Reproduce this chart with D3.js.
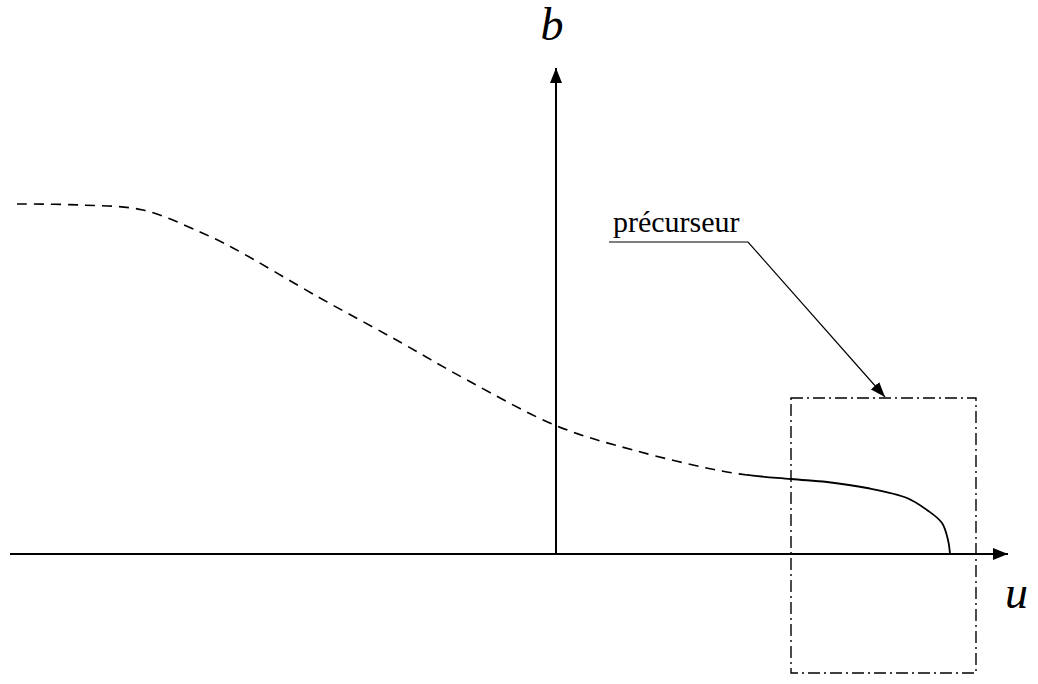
<!DOCTYPE html>
<html lang="fr">
<head>
<meta charset="UTF-8">
<title>précurseur</title>
<script src="https://d3js.org/d3.v7.min.js"></script>
<style>
  body { margin: 0; background: #fff; }
  text { font-family: "Liberation Serif", "Times New Roman", serif; fill: #000; }
</style>
</head>
<body>
<div id="chart"></div>
<script>
const width = 1038, height = 684;

// curve b(u), one list of points; the part past splitU is drawn solid (the precursor)
const curveU = [-10.78, -9.52, -8.26, -7.12, -6.46, -4.72, -3.12, -1.78, 0.02, 1.54, 3.54, 4.7, 5.42, 6.22, 7.02, 7.42, 7.72, 7.84, 7.88];
const curveB = [7.0, 6.98, 6.88, 6.44, 6.12, 5.12, 4.24, 3.48, 2.56, 2.08, 1.62, 1.5, 1.44, 1.32, 1.12, 0.88, 0.62, 0.28, 0.0];
const splitU = 3.82;

// axes extent
const uAxis = [-10.92, 9.04];
const bAxis = [0, 9.72];

// box around the precursor
const boxU = [4.7, 8.4];
const boxB = [-2.38, 3.12];

// label and leader line
const labelText = "précurseur";
const labelPos = [1.14, 6.44];
const leaderU = [1.06, 3.84, 6.58];
const leaderB = [6.24, 6.24, 3.14];

const axisLabels = [
  { text: "b", u: -0.08, b: 10.28, anchor: "middle" },
  { text: "u", u: 8.98, b: -1.08, anchor: "start" }
];

const x = d3.scaleLinear().domain([-11, 9]).range([6, 1006]);
const y = d3.scaleLinear().domain([0, 10]).range([554, 54]);

const svg = d3.select("#chart").append("svg")
  .attr("width", width).attr("height", height);

const defs = svg.append("defs");
function marker(id, len, w) {
  defs.append("marker")
    .attr("id", id)
    .attr("markerUnits", "userSpaceOnUse")
    .attr("viewBox", `0 ${-w / 2} ${len} ${w}`)
    .attr("refX", len).attr("refY", 0)
    .attr("markerWidth", len).attr("markerHeight", w)
    .attr("orient", "auto")
    .append("path")
    .attr("d", `M0,${-w / 2}L${len},0L0,${w / 2}Z`)
    .attr("fill", "#000");
}
marker("axisArrow", 15, 12);
marker("leadArrow", 15, 11);

defs.append("clipPath").attr("id", "clipLeft")
  .append("rect")
  .attr("x", 0).attr("y", 0)
  .attr("width", x(splitU)).attr("height", height);
defs.append("clipPath").attr("id", "clipRight")
  .append("rect")
  .attr("x", x(splitU)).attr("y", 0)
  .attr("width", width - x(splitU)).attr("height", height);

// axes
svg.append("line")
  .attr("x1", x(uAxis[0])).attr("x2", x(uAxis[1]))
  .attr("y1", y(0)).attr("y2", y(0))
  .attr("stroke", "#000").attr("stroke-width", 2)
  .attr("marker-end", "url(#axisArrow)");

svg.append("line")
  .attr("x1", x(0)).attr("x2", x(0))
  .attr("y1", y(bAxis[0])).attr("y2", y(bAxis[1]))
  .attr("stroke", "#000").attr("stroke-width", 2)
  .attr("marker-end", "url(#axisArrow)");

axisLabels.forEach(l => {
  svg.append("text")
    .attr("x", x(l.u)).attr("y", y(l.b))
    .attr("text-anchor", l.anchor)
    .style("font-style", "italic")
    .style("font-size", "46px")
    .text(l.text);
});

// curve
const line = d3.line()
  .x(d => x(d[0])).y(d => y(d[1]))
  .curve(d3.curveCatmullRom.alpha(0.5));
const pts = d3.zip(curveU, curveB);

svg.append("path")
  .datum(pts)
  .attr("d", line)
  .attr("clip-path", "url(#clipLeft)")
  .attr("fill", "none")
  .attr("stroke", "#000")
  .attr("stroke-width", 1.6)
  .attr("stroke-dasharray", "10,7");

svg.append("path")
  .datum(pts)
  .attr("d", line)
  .attr("clip-path", "url(#clipRight)")
  .attr("fill", "none")
  .attr("stroke", "#000")
  .attr("stroke-width", 1.8);

// dash-dot box
svg.append("rect")
  .attr("x", x(boxU[0])).attr("y", y(boxB[1]))
  .attr("width", x(boxU[1]) - x(boxU[0]))
  .attr("height", y(boxB[0]) - y(boxB[1]))
  .attr("fill", "none")
  .attr("stroke", "#000")
  .attr("stroke-width", 1.4)
  .attr("stroke-dasharray", "12,4,2,4");

// label with leader
svg.append("text")
  .attr("x", x(labelPos[0])).attr("y", y(labelPos[1]))
  .style("font-size", "30px")
  .text(labelText);

svg.append("path")
  .datum(d3.zip(leaderU, leaderB))
  .attr("d", d3.line().x(d => x(d[0])).y(d => y(d[1])))
  .attr("fill", "none")
  .attr("stroke", "#000")
  .attr("stroke-width", 1.2)
  .attr("marker-end", "url(#leadArrow)");
</script>
</body>
</html>
